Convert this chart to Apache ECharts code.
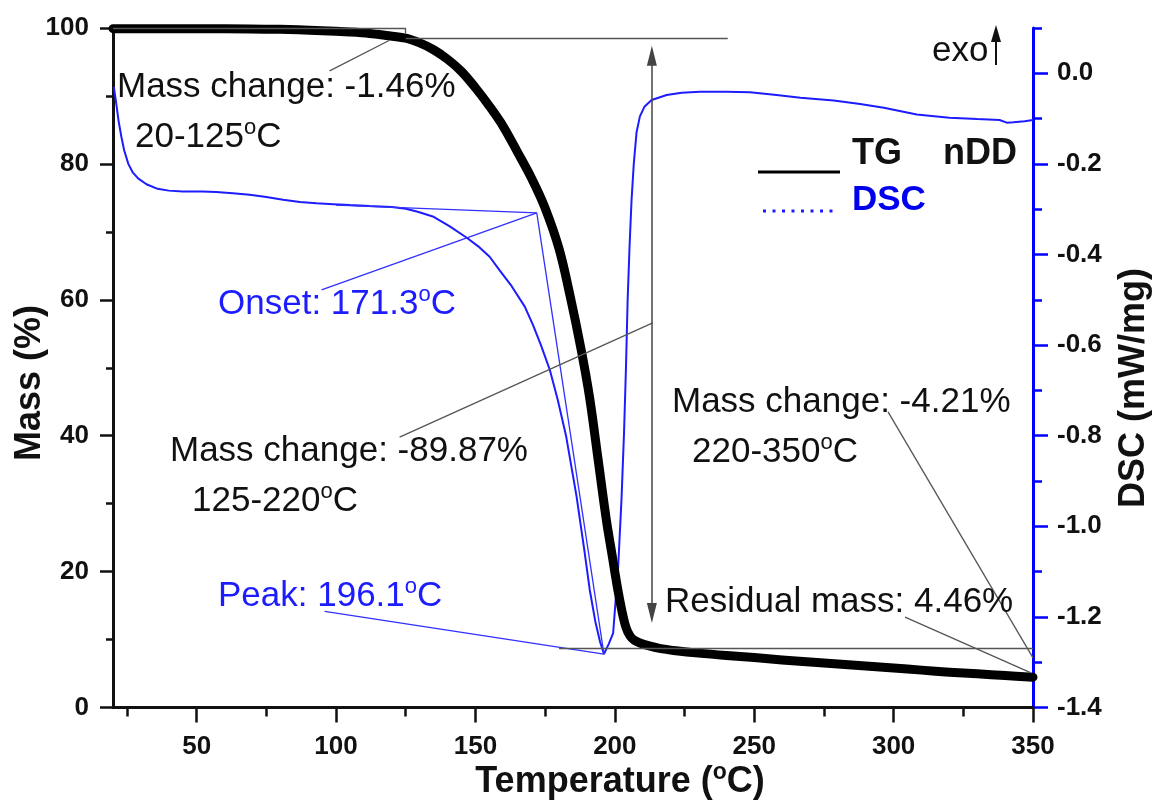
<!DOCTYPE html>
<html><head><meta charset="utf-8">
<script src="https://cdn.jsdelivr.net/npm/echarts@6/dist/echarts.min.js"></script>
<style>html,body{margin:0;padding:0;background:#fff}#c{width:1157px;height:801px}</style>
</head><body><div id="c"></div>
<script>
// ---------- data ----------
const tgTemp = [20, 40, 60, 80, 95, 105, 112, 118, 125, 130, 135, 140, 145, 150, 155, 160, 165, 170, 175, 180, 184, 188, 191, 194, 197, 199, 201, 202.5, 204, 205.5, 207, 209, 212, 216, 222, 230, 240, 250, 260, 270, 280, 290, 300, 310, 320, 330, 340, 350];
const tgMass = [99.9, 99.9, 99.9, 99.8, 99.6, 99.4, 99.2, 98.9, 98.5, 97.8, 96.8, 95.4, 93.6, 91.2, 88.5, 85.5, 81.8, 78.0, 73.5, 67.5, 60.5, 52.5, 45.5, 36.5, 27.5, 22.5, 17.5, 14.3, 11.8, 10.5, 9.9, 9.5, 9.1, 8.7, 8.35, 8.0, 7.65, 7.35, 7.0, 6.7, 6.4, 6.1, 5.8, 5.5, 5.2, 4.95, 4.7, 4.46];

const dscTemp = [20.3, 21, 22, 23, 24, 25.5, 27, 29, 32, 36, 40, 45, 52, 57, 63, 69, 75, 81, 87, 93, 99, 105, 112, 120, 125, 129, 134.7, 140.8, 146.9, 151, 155.1, 158.7, 163, 167.7, 170.6, 173.5, 176.7, 179.5, 182.5, 186.3, 189, 191, 193, 194.7, 196.1, 197.8, 199.4, 201.2, 202.4, 203.3, 204, 204.6, 205.3, 206, 206.8, 207.8, 209, 210.6, 213.2, 218.6, 224, 230.5, 240, 248.5, 258, 266.6, 278.5, 288, 296.5, 308.3, 320, 330, 338, 340.6, 343, 347, 350];
const dscVal = [-0.03, -0.06, -0.105, -0.14, -0.17, -0.2, -0.218, -0.232, -0.245, -0.255, -0.259, -0.261, -0.261, -0.262, -0.265, -0.268, -0.273, -0.279, -0.284, -0.287, -0.289, -0.291, -0.293, -0.295, -0.299, -0.305, -0.316, -0.338, -0.363, -0.382, -0.405, -0.435, -0.47, -0.515, -0.555, -0.6, -0.655, -0.72, -0.8, -0.935, -1.05, -1.14, -1.21, -1.255, -1.282, -1.26, -1.236, -1.09, -0.94, -0.794, -0.65, -0.5, -0.38, -0.28, -0.2, -0.13, -0.095, -0.074, -0.059, -0.048, -0.043, -0.041, -0.041, -0.042, -0.048, -0.054, -0.06, -0.068, -0.076, -0.091, -0.098, -0.101, -0.103, -0.109, -0.108, -0.106, -0.103];

const xMajorTicks = [50, 100, 150, 200, 250, 300, 350];
const xMinorTicks = [25, 75, 125, 175, 225, 275, 325];
const dscMajorTicks = [-1.4, -1.2, -1.0, -0.8, -0.6, -0.4, -0.2, 0.0];
const dscMinorTicks = [-1.3, -1.1, -0.9, -0.7, -0.5, -0.3, -0.1, 0.1];

// construction / annotation lines, [T, value] pairs
const massLines = [
  [[20, 100], [125, 100]],
  [[125, 100], [125, 99.2]],
  [[125, 98.54], [240.5, 98.54]],
  [[180, 8.67], [350, 8.67]],
  [[97.7, 93.7], [119.2, 98.2]],
  [[122.8, 39.8], [213.6, 56.6]],
  [[298, 43.5], [350, 7.3]],
  [[304.1, 13.3], [349.3, 5.1]]
];
const massArrow = [[213.3, 95.9], [213.3, 13.9]];
const dscLines = [
  [[100, -0.291], [172, -0.308]],
  [[172, -0.308], [196.1, -1.282]],
  [[94.8, -0.478], [172, -0.308]],
  [[95.9, -1.188], [196.1, -1.282]]
];

// ---------- chart ----------
const FONT = "'Liberation Sans', Arial, Helvetica, sans-serif";
const BLUE = '#1c1cff';
const chart = echarts.init(document.getElementById('c'), null, {renderer: 'canvas'});

const tgData = tgTemp.map((t, i) => [t, tgMass[i]]);
const dscData = dscTemp.map((t, i) => [t, dscVal[i]]);

function seg(p, color, w) {
  return [{coord: p[0], symbol: 'none', lineStyle: {color: color, width: w}}, {coord: p[1], symbol: 'none'}];
}

const lblStyle = {fontFamily: FONT, fontWeight: 'bold', fontSize: 26, color: '#111'};

const mctx = document.createElement('canvas').getContext('2d');
function fontStr(size, bold) { return (bold ? 'bold ' : '') + size + 'px ' + FONT; }
function tw(text, font) { mctx.font = font; return mctx.measureText(text).width; }

// parts: list of [text, isSuperscript]; y = vertical middle of main text
function txt(x, y, parts, size, color, bold, align) {
  const supSize = Math.round(size * 0.64);
  const widths = parts.map(p => tw(p[0], fontStr(p[1] ? supSize : size, bold)));
  const total = widths.reduce((a, b) => a + b, 0);
  let cx = align === 'center' ? x - total / 2 : x;
  const out = [];
  parts.forEach((p, i) => {
    out.push({
      type: 'text', x: cx, y: p[1] ? y - 0.27 * size : y, z: 100,
      style: {text: p[0], font: fontStr(p[1] ? supSize : size, bold), fill: color, textAlign: 'left', textVerticalAlign: 'middle'}
    });
    cx += widths[i];
  });
  return out;
}

const graphics = [].concat(
  txt(117, 87, [['Mass change: -1.46%']], 35, '#111', false),
  txt(135, 137, [['20-125'], ['o', 1], ['C']], 35, '#111', false),
  txt(218, 304, [['Onset: 171.3'], ['o', 1], ['C']], 35, BLUE, false),
  txt(170, 451, [['Mass change: -89.87%']], 35, '#111', false),
  txt(192, 501, [['125-220'], ['o', 1], ['C']], 35, '#111', false),
  txt(672, 402, [['Mass change: -4.21%']], 35, '#111', false),
  txt(692, 452, [['220-350'], ['o', 1], ['C']], 35, '#111', false),
  txt(665, 602, [['Residual mass: 4.46%']], 35, '#111', false),
  txt(218, 596, [['Peak: 196.1'], ['o', 1], ['C']], 35, BLUE, false),
  txt(932, 51, [['exo']], 35, '#111', false),
  txt(852, 154, [['TG']], 36, '#111', true),
  txt(943, 154, [['nDD']], 36, '#111', true),
  txt(852, 200, [['DSC']], 35, '#0000ee', true),
  txt(620, 782, [['Temperature ('], ['o', 1], ['C)']], 36, '#111', true, 'center'),
  [
    {type: 'line', z: 100, shape: {x1: 996, y1: 65, x2: 996, y2: 36}, style: {stroke: '#111', lineWidth: 2}},
    {type: 'polygon', z: 100, shape: {points: [[991, 42], [996, 25], [1001, 42]]}, style: {fill: '#111'}},
    {type: 'line', z: 100, shape: {x1: 758, y1: 172, x2: 840, y2: 172}, style: {stroke: '#000', lineWidth: 3}},
    {type: 'line', z: 100, shape: {x1: 763, y1: 211, x2: 838, y2: 211}, style: {stroke: BLUE, lineWidth: 3, lineDash: [3, 6.5]}},
    {
      type: 'text', x: 30, y: 383, rotation: Math.PI / 2, z: 100,
      style: {text: 'Mass (%)', font: fontStr(36, true), fill: '#111', textAlign: 'center', textVerticalAlign: 'middle'}
    },
    {
      type: 'text', x: 1134, y: 388, rotation: Math.PI / 2, z: 100,
      style: {text: 'DSC (mW/mg)', font: fontStr(36, true), fill: '#111', textAlign: 'center', textVerticalAlign: 'middle'}
    }
  ]
);

const option = {
  animation: false,
  backgroundColor: '#ffffff',
  grid: {left: 113, right: 124, top: 28, bottom: 93.5, containLabel: false},
  xAxis: [
    {
      type: 'value', min: 20, max: 350, position: 'bottom',
      axisLine: {show: true, onZero: false, lineStyle: {color: '#111', width: 3}},
      axisTick: {show: true, length: 15, lineStyle: {color: '#111', width: 2.5}, customValues: xMajorTicks},
      axisLabel: {show: true, margin: 26, customValues: xMajorTicks, ...lblStyle},
      splitLine: {show: false}
    },
    {
      type: 'value', min: 20, max: 350, position: 'bottom',
      axisLine: {show: false, onZero: false},
      axisTick: {show: true, length: 9, lineStyle: {color: '#111', width: 2.5}, customValues: xMinorTicks},
      axisLabel: {show: false},
      splitLine: {show: false}
    }
  ],
  yAxis: [
    {
      type: 'value', min: 0, max: 100, interval: 20, position: 'left',
      axisLine: {show: true, onZero: false, lineStyle: {color: '#111', width: 3}},
      axisTick: {show: true, length: 13, lineStyle: {color: '#111', width: 2.5}},
      minorTick: {show: true, splitNumber: 2, length: 7, lineStyle: {color: '#111', width: 2.5}},
      axisLabel: {margin: 24, ...lblStyle},
      splitLine: {show: false}, minorSplitLine: {show: false}
    },
    {
      type: 'value', min: -1.4, max: 0.1, position: 'right',
      axisLine: {show: true, onZero: false, lineStyle: {color: '#0000ff', width: 3}},
      axisTick: {show: true, length: 15, lineStyle: {color: '#0000ff', width: 2.5}, customValues: dscMajorTicks},
      axisLabel: {margin: 24, customValues: dscMajorTicks, formatter: v => v.toFixed(1), ...lblStyle},
      splitLine: {show: false}
    },
    {
      type: 'value', min: -1.4, max: 0.1, position: 'right',
      axisLine: {show: false, onZero: false},
      axisTick: {show: true, length: 9, lineStyle: {color: '#0000ff', width: 2.5}, customValues: dscMinorTicks},
      axisLabel: {show: false},
      splitLine: {show: false}
    }
  ],
  series: [
    {
      name: 'DSC', type: 'line', xAxisIndex: 0, yAxisIndex: 1, data: dscData,
      showSymbol: false, smooth: false, z: 3,
      lineStyle: {color: BLUE, width: 2},
      markLine: {
        silent: true, animation: false, symbol: 'none', label: {show: false},
        lineStyle: {color: '#3030ff', width: 1.3, type: 'solid'},
        data: dscLines.map(p => seg(p, '#3030ff', 1.3))
      }
    },
    {
      name: 'TG', type: 'line', xAxisIndex: 0, yAxisIndex: 0, data: tgData,
      showSymbol: false, smooth: 0.35, z: 4,
      lineStyle: {color: '#000', width: 9, join: 'round', cap: 'round'},
      markLine: {
        silent: true, animation: false, symbol: 'none', label: {show: false},
        lineStyle: {color: '#555', width: 1.3, type: 'solid'},
        data: massLines.map(p => seg(p, '#555', 1.3)).concat([[
          {coord: massArrow[0], symbol: 'triangle', symbolSize: [10, 20], lineStyle: {color: '#444', width: 1.5}},
          {coord: massArrow[1], symbol: 'triangle', symbolSize: [10, 20]}
        ]])
      }
    }
  ],
  graphic: graphics
};
chart.setOption(option);
</script>
</body></html>
